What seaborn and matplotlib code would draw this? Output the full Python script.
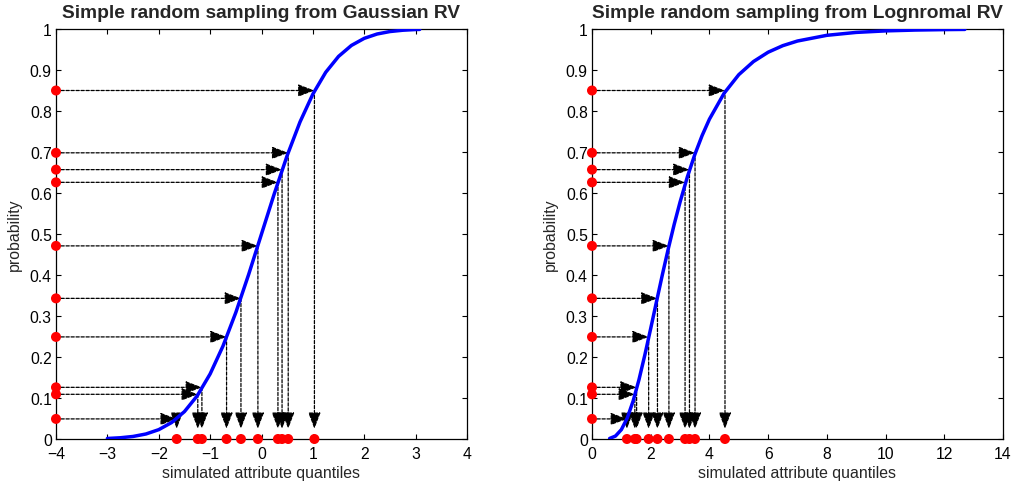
import matplotlib
matplotlib.use("Agg")
import matplotlib.pyplot as plt
import seaborn as sns
import pandas as pd

# ---- data ----
probabilities = [0.049, 0.109, 0.126, 0.249, 0.343, 0.471, 0.626, 0.657, 0.698, 0.850]
gauss_quantiles = [-1.65, -1.24, -1.16, -0.68, -0.40, -0.07, 0.32, 0.40, 0.52, 1.03]
logn_quantiles = [1.19, 1.46, 1.52, 1.93, 2.23, 2.62, 3.17, 3.32, 3.51, 4.53]

gauss_cdf_x = [-3.00, -2.75, -2.50, -2.25, -2.00, -1.75, -1.50, -1.25, -1.00, -0.75,
               -0.50, -0.25, 0.00, 0.25, 0.50, 0.75, 1.00, 1.25, 1.50, 1.75,
               2.00, 2.25, 2.50, 2.75, 3.00, 3.08]
gauss_cdf_p = [0.0013, 0.0030, 0.0062, 0.0122, 0.0228, 0.0401, 0.0668, 0.1056, 0.1587, 0.2266,
               0.3085, 0.4013, 0.5000, 0.5987, 0.6915, 0.7734, 0.8413, 0.8944, 0.9332, 0.9599,
               0.9772, 0.9878, 0.9938, 0.9970, 0.9987, 0.9990]

logn_cdf_x = [0.6, 0.8, 1.0, 1.2, 1.4, 1.6, 1.8, 2.0, 2.2, 2.4, 2.6, 2.8, 3.0, 3.25, 3.5,
              3.75, 4.0, 4.5, 5.0, 5.5, 6.0, 6.5, 7.0, 8.0, 9.0, 10.0, 11.0, 12.0, 12.7]
logn_cdf_p = [0.0013, 0.0072, 0.0228, 0.0510, 0.0923, 0.1446, 0.2050, 0.2697, 0.3360, 0.4017,
              0.4645, 0.5236, 0.5780, 0.6396, 0.6934, 0.7400, 0.7801, 0.8433, 0.8886, 0.9206,
              0.9434, 0.9594, 0.9707, 0.9846, 0.9917, 0.9954, 0.9974, 0.9985, 0.9990]

titles = ["Simple random sampling from Gaussian RV", "Simple random sampling from Lognromal RV"]
x_label = "simulated attribute quantiles"
y_label = "probability"
y_ticks = [0, 0.1, 0.2, 0.3, 0.4, 0.5, 0.6, 0.7, 0.8, 0.9, 1.0]
y_tick_labels = ["0", "0.1", "0.2", "0.3", "0.4", "0.5", "0.6", "0.7", "0.8", "0.9", "1"]
gauss_x_ticks = [-4, -3, -2, -1, 0, 1, 2, 3, 4]
gauss_x_tick_labels = ["\u22124", "\u22123", "\u22122", "\u22121", "0", "1", "2", "3", "4"]
logn_x_ticks = [0, 2, 4, 6, 8, 10, 12, 14]
logn_x_tick_labels = ["0", "2", "4", "6", "8", "10", "12", "14"]
arrow_bottom = 0.025

# ---- style ----
sns.set_style("ticks")
plt.rcParams["font.family"] = ["Liberation Sans", "DejaVu Sans"]
plt.rcParams["axes.linewidth"] = 0.9
plt.rcParams["xtick.direction"] = "in"
plt.rcParams["ytick.direction"] = "in"

fig = plt.figure(figsize=(10.16, 4.89), dpi=100)
ax_l = fig.add_axes([56 / 1016, 49 / 489, 411 / 1016, 410 / 489])
ax_r = fig.add_axes([592 / 1016, 49 / 489, 411 / 1016, 410 / 489])

panels = [
    (ax_l, gauss_cdf_x, gauss_cdf_p, gauss_quantiles, (-4, 4), gauss_x_ticks, gauss_x_tick_labels, titles[0]),
    (ax_r, logn_cdf_x, logn_cdf_p, logn_quantiles, (0, 14), logn_x_ticks, logn_x_tick_labels, titles[1]),
]

dash = (0, (2.6, 1.4))
arrow_style = "-|>,head_length=1.0,head_width=0.38"
for ax, cx, cp, q, xlim, xt, xtl, title in panels:
    curve = pd.DataFrame({"x": cx, "p": cp})
    sns.lineplot(data=curve, x="x", y="p", ax=ax, color=(0, 0, 1), linewidth=2.5,
                 sort=False, estimator=None, zorder=3)
    x0 = xlim[0]
    for xv, p in zip(q, probabilities):
        ax.annotate("", xy=(xv, p), xytext=(x0, p),
                    arrowprops=dict(arrowstyle=arrow_style, mutation_scale=10,
                                    color="black", lw=0.9, linestyle=dash,
                                    shrinkA=0, shrinkB=0),
                    annotation_clip=False, zorder=2)
        ax.annotate("", xy=(xv, arrow_bottom), xytext=(xv, p),
                    arrowprops=dict(arrowstyle=arrow_style, mutation_scale=10,
                                    color="black", lw=0.9, linestyle=dash,
                                    shrinkA=0, shrinkB=0),
                    annotation_clip=False, zorder=2)
    sns.scatterplot(x=[x0] * len(probabilities), y=probabilities, ax=ax, color="red",
                    s=52, edgecolor="none", clip_on=False, zorder=6)
    sns.scatterplot(x=q, y=[0] * len(q), ax=ax, color="red",
                    s=52, edgecolor="none", clip_on=False, zorder=6)
    ax.set_xlim(*xlim)
    ax.set_ylim(0, 1)
    ax.set_xticks(xt)
    ax.set_xticklabels(xtl)
    ax.set_yticks(y_ticks)
    ax.set_yticklabels(y_tick_labels)
    ax.tick_params(axis="both", which="both", direction="in", top=True, right=True,
                   length=3.5, width=0.8, labelsize=11.3, colors="black")
    ax.tick_params(axis="x", pad=5)
    ax.tick_params(axis="y", pad=3)
    for s in ax.spines.values():
        s.set_visible(True)
        s.set_color("black")
    ax.set_xlabel(x_label, fontsize=11.4, labelpad=3)
    ax.set_ylabel(y_label, fontsize=11.4, labelpad=6)
    ax.set_title(title, fontsize=13.8, fontweight="bold", pad=9)

fig.savefig("out.png", dpi=100)
